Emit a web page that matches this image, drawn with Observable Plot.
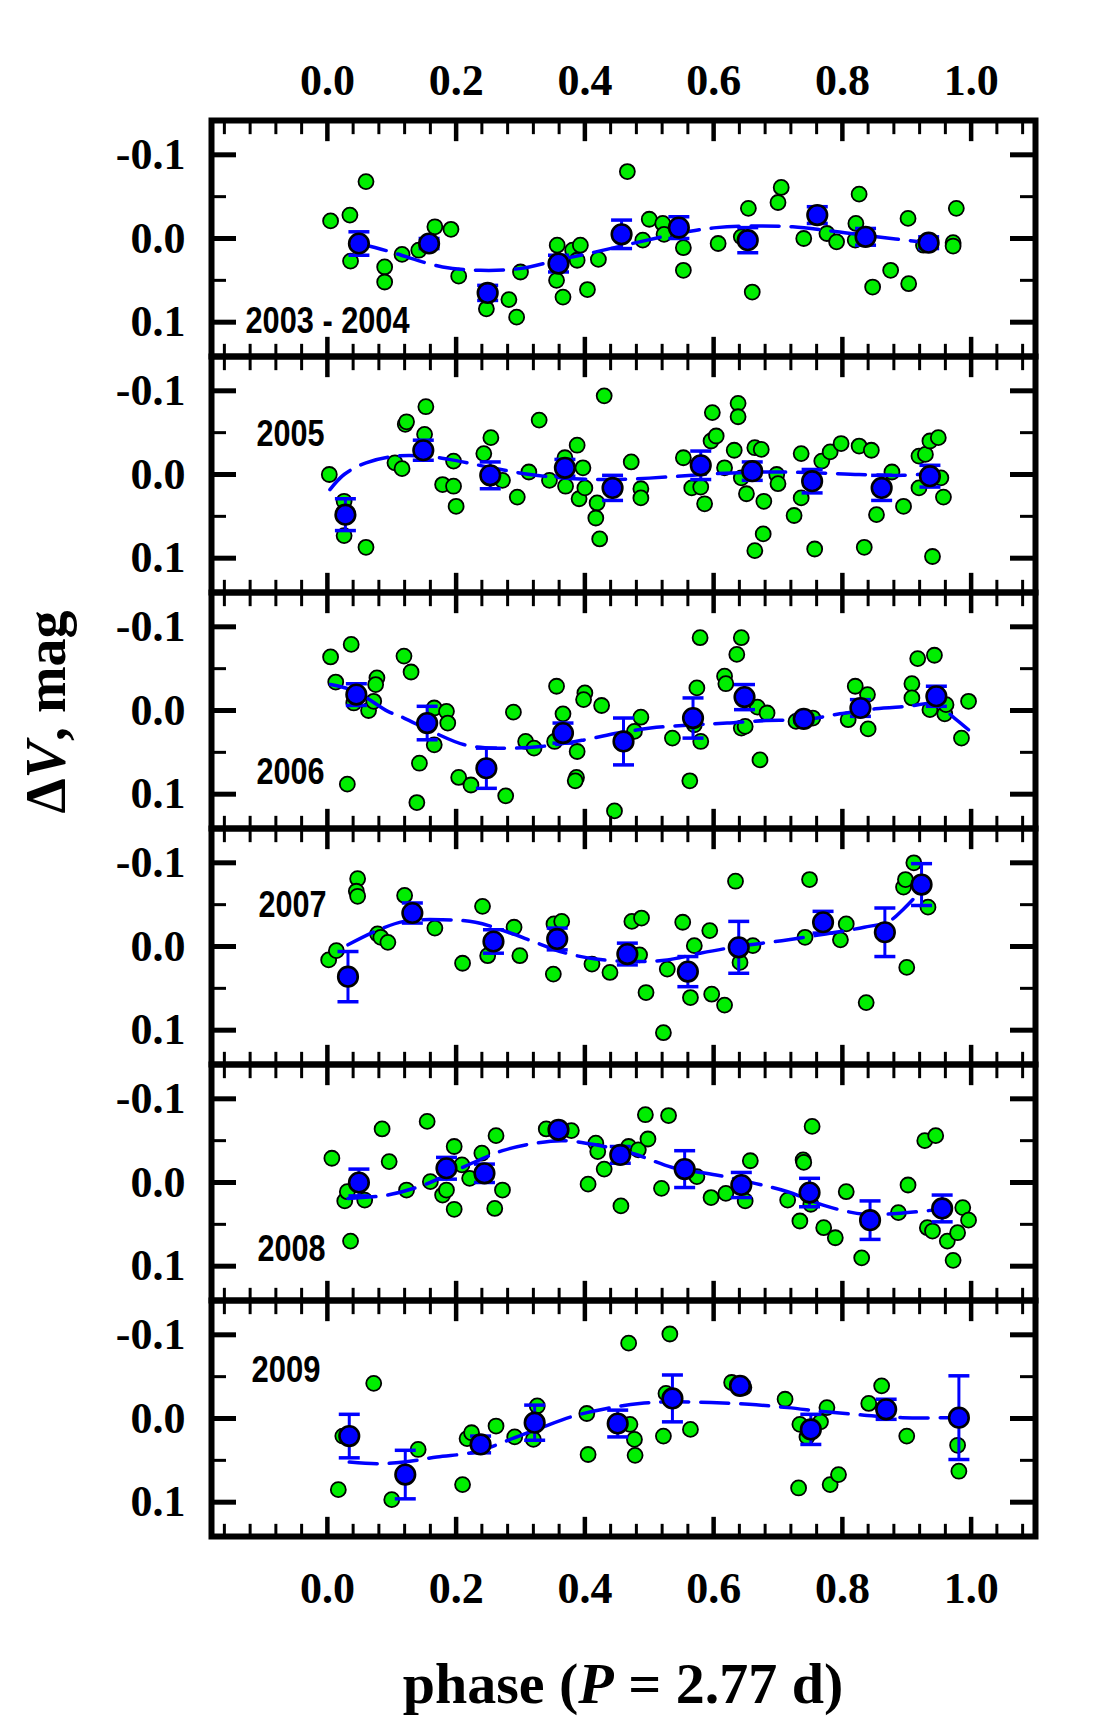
<!DOCTYPE html>
<html><head><meta charset="utf-8">
<script src="https://cdn.jsdelivr.net/npm/d3@7"></script>
<script src="https://cdn.jsdelivr.net/npm/@observablehq/plot@0.6"></script>
<style>html,body{margin:0;padding:0;background:#fff}#chart svg{display:block}</style>
</head><body><div id="chart"></div><script>
// ---------------- data ----------------
const years = ["2003 - 2004","2005","2006","2007","2008","2009"];
const xLabels = [0, 0.2, 0.4, 0.6, 0.8, 1.0];
const xMinor = [-0.16,-0.12,-0.08,-0.04,0.04,0.08,0.12,0.16,0.24,0.28,0.32,0.36,0.44,0.48,0.52,0.56,0.64,0.68,0.72,0.76,0.84,0.88,0.92,0.96,1.04,1.08];
const yLabels = [-0.1, 0, 0.1];
const yMinor = [-0.05, 0.05];

// [phase, dV]
const obs2003 = [[0.005,-0.021],[0.035,-0.028],[0.060,-0.068],[0.036,0.027],[0.089,0.034],[0.089,0.052],[0.116,0.019],[0.142,0.014],[0.167,-0.014],[0.192,-0.011],[0.204,0.045],[0.247,0.084],[0.282,0.073],[0.294,0.094],[0.300,0.040],[0.357,0.008],[0.356,0.050],[0.366,0.070],[0.381,0.014],[0.393,0.008],[0.388,0.026],[0.404,0.061],[0.421,0.025],[0.466,-0.080],[0.490,0.002],[0.500,-0.023],[0.521,-0.018],[0.523,-0.005],[0.553,0.011],[0.553,0.038],[0.607,0.006],[0.643,-0.002],[0.654,-0.036],[0.660,0.064],[0.700,-0.043],[0.705,-0.061],[0.740,0.000],[0.776,-0.006],[0.791,0.004],[0.821,-0.018],[0.826,-0.053],[0.820,0.002],[0.875,0.038],[0.847,0.058],[0.902,-0.024],[0.903,0.054],[0.972,0.005],[0.972,0.009],[0.977,-0.036],[0.926,0.008]];
const obs2005 = [[0.003,0.000],[0.026,0.032],[0.026,0.073],[0.060,0.087],[0.105,-0.014],[0.116,-0.007],[0.121,-0.060],[0.123,-0.063],[0.153,-0.081],[0.151,-0.048],[0.179,0.012],[0.196,0.014],[0.200,0.038],[0.196,-0.016],[0.243,-0.025],[0.254,-0.044],[0.272,0.007],[0.295,0.027],[0.313,-0.003],[0.329,-0.065],[0.345,0.007],[0.369,-0.020],[0.370,0.014],[0.388,-0.035],[0.391,0.029],[0.397,-0.008],[0.400,0.016],[0.419,0.034],[0.417,0.052],[0.423,0.077],[0.430,-0.094],[0.472,-0.015],[0.487,0.017],[0.487,0.028],[0.553,-0.020],[0.566,0.016],[0.580,0.015],[0.586,0.035],[0.596,-0.040],[0.604,-0.046],[0.598,-0.074],[0.617,-0.008],[0.632,-0.029],[0.638,-0.085],[0.638,-0.069],[0.643,0.004],[0.651,0.023],[0.664,-0.032],[0.674,-0.030],[0.678,0.032],[0.677,0.071],[0.664,0.091],[0.698,0.000],[0.700,0.011],[0.725,0.049],[0.736,-0.025],[0.736,0.028],[0.757,0.089],[0.768,-0.016],[0.781,-0.027],[0.798,-0.037],[0.826,-0.034],[0.845,-0.029],[0.834,0.087],[0.853,0.048],[0.877,-0.003],[0.895,0.038],[0.919,-0.022],[0.919,0.016],[0.929,-0.024],[0.936,-0.040],[0.949,-0.044],[0.953,0.004],[0.957,0.027],[0.940,0.098]];
const obs2006 = [[0.005,-0.064],[0.037,-0.079],[0.013,-0.034],[0.041,-0.009],[0.064,0.000],[0.072,-0.011],[0.077,-0.039],[0.075,-0.031],[0.031,0.088],[0.119,-0.065],[0.130,-0.046],[0.143,0.063],[0.139,0.110],[0.166,-0.003],[0.185,0.001],[0.187,0.015],[0.166,0.041],[0.204,0.080],[0.223,0.089],[0.277,0.102],[0.289,0.002],[0.308,0.037],[0.321,0.045],[0.356,-0.029],[0.366,0.004],[0.353,0.037],[0.388,0.049],[0.400,-0.021],[0.398,-0.013],[0.426,-0.006],[0.387,0.080],[0.385,0.084],[0.446,0.120],[0.487,0.008],[0.477,0.025],[0.536,0.033],[0.563,0.084],[0.574,-0.027],[0.579,-0.087],[0.580,0.037],[0.570,0.017],[0.617,-0.041],[0.619,-0.032],[0.636,-0.067],[0.643,-0.087],[0.643,0.021],[0.649,0.019],[0.668,-0.004],[0.683,0.003],[0.672,0.059],[0.728,0.013],[0.754,0.009],[0.809,0.011],[0.820,-0.029],[0.839,-0.019],[0.840,0.022],[0.908,-0.032],[0.908,-0.015],[0.917,-0.062],[0.943,-0.066],[0.936,-0.001],[0.959,0.004],[0.961,-0.007],[0.996,-0.011],[0.985,0.033]];
const obs2007 = [[0.002,0.016],[0.014,0.005],[0.047,-0.081],[0.045,-0.066],[0.047,-0.060],[0.078,-0.015],[0.083,-0.011],[0.094,-0.005],[0.120,-0.061],[0.167,-0.022],[0.210,0.020],[0.241,-0.048],[0.249,0.011],[0.290,-0.023],[0.299,0.011],[0.352,-0.027],[0.364,-0.030],[0.351,0.033],[0.411,0.021],[0.439,0.031],[0.473,-0.030],[0.488,-0.034],[0.485,0.010],[0.495,0.055],[0.522,0.103],[0.528,0.027],[0.552,-0.029],[0.564,0.061],[0.570,-0.001],[0.594,-0.019],[0.597,0.057],[0.617,0.070],[0.634,-0.078],[0.641,0.019],[0.661,-0.001],[0.742,-0.011],[0.749,-0.080],[0.797,-0.008],[0.806,-0.027],[0.837,0.067],[0.900,0.025],[0.895,-0.071],[0.898,-0.080],[0.911,-0.100],[0.933,-0.047]];
const obs2008 = [[0.007,-0.029],[0.027,0.022],[0.031,0.011],[0.036,0.070],[0.058,0.021],[0.085,-0.064],[0.096,-0.025],[0.123,0.009],[0.155,-0.073],[0.160,-0.001],[0.179,0.015],[0.185,0.009],[0.197,-0.043],[0.197,0.032],[0.209,-0.021],[0.221,-0.005],[0.240,-0.035],[0.262,-0.056],[0.260,0.031],[0.272,0.009],[0.340,-0.064],[0.379,-0.062],[0.405,0.002],[0.417,-0.047],[0.420,-0.037],[0.430,-0.016],[0.456,0.028],[0.468,-0.043],[0.483,-0.039],[0.494,-0.081],[0.498,-0.052],[0.530,-0.080],[0.519,0.007],[0.574,-0.007],[0.596,0.018],[0.619,0.013],[0.649,0.022],[0.657,-0.026],[0.715,0.021],[0.734,0.046],[0.739,-0.027],[0.740,-0.024],[0.751,0.026],[0.753,-0.067],[0.771,0.054],[0.789,0.066],[0.806,0.011],[0.830,0.090],[0.887,0.036],[0.902,0.003],[0.928,-0.050],[0.945,-0.056],[0.932,0.054],[0.940,0.058],[0.963,0.070],[0.979,0.060],[0.987,0.030],[0.996,0.045],[0.972,0.093]];
const obs2009 = [[0.017,0.085],[0.024,0.021],[0.072,-0.042],[0.100,0.097],[0.141,0.037],[0.210,0.079],[0.217,0.024],[0.224,0.017],[0.262,0.009],[0.291,0.022],[0.320,0.025],[0.326,-0.015],[0.403,-0.006],[0.405,0.043],[0.468,-0.090],[0.470,0.007],[0.477,0.025],[0.478,0.044],[0.522,0.021],[0.526,-0.030],[0.532,-0.101],[0.564,0.013],[0.628,-0.043],[0.647,-0.037],[0.711,-0.023],[0.732,0.083],[0.734,0.007],[0.745,0.022],[0.766,0.004],[0.776,-0.013],[0.781,0.079],[0.794,0.067],[0.841,-0.018],[0.861,-0.039],[0.900,0.021],[0.979,0.032],[0.981,0.063]];

// [phase, mean dV, error]
const mean2003 = [[0.049,0.006,0.014],[0.158,0.006,0.006],[0.249,0.065,0.009],[0.359,0.030,0.010],[0.457,-0.005,0.017],[0.546,-0.013,0.013],[0.653,0.002,0.015],[0.761,-0.028,0.010],[0.836,-0.002,0.010],[0.934,0.005,0.007]];
const mean2005 = [[0.028,0.048,0.019],[0.149,-0.029,0.012],[0.253,0.001,0.016],[0.369,-0.008,0.010],[0.443,0.016,0.015],[0.580,-0.011,0.017],[0.660,-0.004,0.011],[0.753,0.008,0.014],[0.861,0.016,0.015],[0.936,0.002,0.013]];
const mean2006 = [[0.045,-0.019,0.013],[0.155,0.015,0.020],[0.247,0.069,0.024],[0.366,0.027,0.012],[0.460,0.037,0.028],[0.568,0.009,0.024],[0.648,-0.016,0.015],[0.740,0.010,0.004],[0.828,-0.003,0.010],[0.946,-0.017,0.012]];
const mean2007 = [[0.032,0.036,0.030],[0.132,-0.040,0.012],[0.258,-0.006,0.014],[0.357,-0.009,0.013],[0.466,0.009,0.013],[0.560,0.030,0.018],[0.639,0.001,0.031],[0.770,-0.029,0.013],[0.866,-0.017,0.029],[0.923,-0.074,0.025]];
const mean2008 = [[0.049,0.000,0.016],[0.185,-0.017,0.013],[0.244,-0.011,0.011],[0.359,-0.063,0.004],[0.455,-0.033,0.010],[0.555,-0.016,0.022],[0.643,0.003,0.015],[0.749,0.012,0.017],[0.843,0.045,0.023],[0.955,0.031,0.016]];
const mean2009 = [[0.034,0.021,0.026],[0.121,0.067,0.029],[0.238,0.031,0.010],[0.322,0.005,0.021],[0.451,0.006,0.016],[0.536,-0.024,0.028],[0.641,-0.039,0.004],[0.751,0.013,0.018],[0.868,-0.011,0.012],[0.981,-0.001,0.050]];

// fitted curves [phase, dV]
const fit2003 = [[0.049,0.006],[0.094,0.015],[0.115,0.020],[0.179,0.034],[0.238,0.038],[0.298,0.036],[0.357,0.026],[0.417,0.016],[0.485,0.004],[0.545,-0.006],[0.604,-0.013],[0.664,-0.015],[0.723,-0.014],[0.783,-0.009],[0.843,-0.003],[0.934,0.005]];
const fit2005 = [[0.004,0.018],[0.026,0.000],[0.060,-0.014],[0.106,-0.022],[0.153,-0.022],[0.204,-0.016],[0.255,-0.008],[0.315,0.000],[0.383,0.005],[0.451,0.006],[0.528,0.003],[0.604,-0.001],[0.681,-0.003],[0.757,-0.002],[0.826,0.000],[0.894,0.001],[0.949,-0.002]];
const fit2006 = [[0.005,-0.031],[0.043,-0.023],[0.094,0.001],[0.119,0.009],[0.162,0.025],[0.213,0.041],[0.264,0.045],[0.332,0.043],[0.400,0.035],[0.451,0.027],[0.502,0.021],[0.570,0.017],[0.621,0.015],[0.681,0.012],[0.740,0.011],[0.796,0.004],[0.851,-0.002],[0.902,-0.005],[0.945,-0.008],[0.974,0.009],[0.996,0.023]];
const fit2007 = [[0.032,-0.002],[0.077,-0.019],[0.119,-0.030],[0.179,-0.032],[0.230,-0.029],[0.281,-0.017],[0.323,-0.005],[0.366,0.007],[0.417,0.015],[0.477,0.018],[0.528,0.016],[0.579,0.008],[0.638,0.000],[0.706,-0.007],[0.774,-0.015],[0.834,-0.023],[0.872,-0.030],[0.894,-0.044],[0.919,-0.064]];
const fit2008 = [[0.032,0.019],[0.094,0.015],[0.153,0.002],[0.213,-0.019],[0.272,-0.038],[0.323,-0.047],[0.366,-0.050],[0.417,-0.045],[0.477,-0.034],[0.536,-0.018],[0.604,-0.009],[0.664,0.001],[0.715,0.011],[0.774,0.028],[0.834,0.038],[0.885,0.037],[0.953,0.032]];
const fit2009 = [[0.034,0.052],[0.077,0.054],[0.119,0.052],[0.170,0.046],[0.230,0.040],[0.281,0.026],[0.332,0.011],[0.383,-0.003],[0.434,-0.012],[0.485,-0.018],[0.536,-0.020],[0.596,-0.019],[0.655,-0.017],[0.715,-0.013],[0.774,-0.008],[0.834,-0.004],[0.894,-0.001],[0.981,-0.001]];

// ---------------- build tables ----------------
const panels = [
  {year: years[0], obs: obs2003, mean: mean2003, fit: fit2003},
  {year: years[1], obs: obs2005, mean: mean2005, fit: fit2005},
  {year: years[2], obs: obs2006, mean: mean2006, fit: fit2006},
  {year: years[3], obs: obs2007, mean: mean2007, fit: fit2007},
  {year: years[4], obs: obs2008, mean: mean2008, fit: fit2008},
  {year: years[5], obs: obs2009, mean: mean2009, fit: fit2009}
];
const obsRows = panels.flatMap(p => p.obs.map(([phase, dv]) => ({year: p.year, phase, dv})));
const meanRows = panels.flatMap(p => p.mean.map(([phase, dv, err]) => ({year: p.year, phase, dv, err})));
const capRows = meanRows.flatMap(d => [{year: d.year, phase: d.phase, dv: d.dv - d.err}, {year: d.year, phase: d.phase, dv: d.dv + d.err}]);
const fitRows = panels.flatMap(p => p.fit.map(([phase, dv]) => ({year: p.year, phase, dv})));

// ---------------- layout / style ----------------
const W = 1117, H = 1722;
const mL = 211, mR = 82, mT = 117, mB = 184;
const facetH = (H - mT - mB) / years.length;
const innerW = W - mL - mR;
const GREEN = "#00ee00", BLUE = "#0000ff";
const SERIF = "'Liberation Serif','Times New Roman',serif";
const SANS = "'Liberation Sans',Arial,sans-serif";
const fmt = d => (d < 0 ? "-" : "") + Math.abs(d).toFixed(1);
const capSymbol = {draw(ctx, size) { const w = Math.sqrt(size / Math.PI); ctx.moveTo(-w, 0); ctx.lineTo(w, 0); }};

// label placement per panel: [anchor, dx, dy, condensed width]
const labelPlace = {
  "2003 - 2004": ["bottom-left", 34, -24, 164],
  "2005": ["top-left", 45, 89, 68],
  "2006": ["bottom-left", 45, -45, 68],
  "2007": ["top-left", 47, 88, 68],
  "2008": ["bottom-left", 46, -40, 68],
  "2009": ["top-left", 40, 81, 69]
};
const labelMarks = years.map(y => Plot.text([y], {
  fy: d => d, text: d => d, frameAnchor: labelPlace[y][0], dx: labelPlace[y][1], dy: labelPlace[y][2],
  textAnchor: "start", lineAnchor: "bottom", fontFamily: SANS, fontWeight: "bold", fontSize: 37, fill: "black"
}));

const plot = Plot.plot({
  width: W, height: H,
  marginLeft: mL, marginRight: mR, marginTop: mT, marginBottom: mB,
  x: {domain: [-0.18, 1.1]},
  y: {domain: [0.141, -0.141]},
  fy: {domain: years, padding: 0, axis: null},
  style: {fontFamily: SERIF, fontWeight: "bold", background: "white", overflow: "visible"},
  marks: [
    Plot.dot(obsRows, {x: "phase", y: "dv", fy: "year", r: 7.5, fill: GREEN, stroke: "black", strokeWidth: 1.8}),
    Plot.line(fitRows, {x: "phase", y: "dv", fy: "year", z: "year", curve: "catmull-rom", stroke: BLUE, strokeWidth: 3.5, strokeDasharray: "28,12"}),
    Plot.ruleX(meanRows, {x: "phase", y1: d => d.dv - d.err, y2: d => d.dv + d.err, fy: "year", stroke: BLUE, strokeWidth: 3}),
    Plot.dot(capRows, {x: "phase", y: "dv", fy: "year", symbol: capSymbol, r: 10.5, stroke: BLUE, strokeWidth: 3.5, fill: "none"}),
    Plot.dot(meanRows, {x: "phase", y: "dv", fy: "year", r: 9.8, fill: BLUE, stroke: "black", strokeWidth: 2.6}),
    // inward ticks
    Plot.tickX(xMinor, {x: d => d, insetBottom: facetH - 15, stroke: "black", strokeWidth: 3}),
    Plot.tickX(xLabels, {x: d => d, insetBottom: facetH - 22, stroke: "black", strokeWidth: 4.5}),
    Plot.tickX(xMinor, {x: d => d, insetTop: facetH - 13, stroke: "black", strokeWidth: 3}),
    Plot.tickX(xLabels, {x: d => d, insetTop: facetH - 20, stroke: "black", strokeWidth: 4.5}),
    Plot.tickY(yLabels, {y: d => d, insetRight: innerW - 25, stroke: "black", strokeWidth: 5}),
    Plot.tickY(yMinor, {y: d => d, insetRight: innerW - 15, stroke: "black", strokeWidth: 3}),
    Plot.tickY(yLabels, {y: d => d, insetLeft: innerW - 25, stroke: "black", strokeWidth: 5}),
    Plot.tickY(yMinor, {y: d => d, insetLeft: innerW - 15, stroke: "black", strokeWidth: 3}),
    Plot.frame({stroke: "black", strokeWidth: 6}),
    Plot.axisX({anchor: "top", ticks: xLabels, tickSize: 0, tickPadding: 26, tickFormat: fmt, fontSize: 44, fontWeight: "bold", fontFamily: SERIF, label: null}),
    Plot.axisX({anchor: "bottom", ticks: xLabels, tickSize: 0, tickPadding: 35, tickFormat: fmt, fontSize: 44, fontWeight: "bold", fontFamily: SERIF, label: null}),
    Plot.axisY({anchor: "left", ticks: yLabels, tickSize: 0, tickPadding: 26, tickFormat: fmt, fontSize: 44, fontWeight: "bold", fontFamily: SERIF, label: null}),
    ...labelMarks
  ]
});

const svg = d3.select(plot);
// condense the panel labels (narrow sans look)
svg.selectAll("text").filter(function() { return labelPlace[this.textContent] !== undefined; })
  .attr("textLength", function() { return labelPlace[this.textContent][3]; })
  .attr("lengthAdjust", "spacingAndGlyphs");

// axis titles (real text with italic parts)
const xt = svg.append("text")
  .attr("x", (mL + W - mR) / 2).attr("y", 1703)
  .attr("text-anchor", "middle").attr("font-family", SERIF).attr("font-weight", "bold").attr("font-size", 58).attr("fill", "black");
xt.append("tspan").text("phase (");
xt.append("tspan").attr("font-style", "italic").text("P");
xt.append("tspan").text(" = 2.77 d)");
const yt = svg.append("text")
  .attr("transform", "translate(65,712) rotate(-90)")
  .attr("text-anchor", "middle").attr("font-family", SERIF).attr("font-weight", "bold").attr("font-size", 56).attr("fill", "black");
yt.append("tspan").text("Δ");
yt.append("tspan").attr("font-style", "italic").text("V");
yt.append("tspan").text(", mag");

document.getElementById("chart").append(plot);
</script></body></html>
